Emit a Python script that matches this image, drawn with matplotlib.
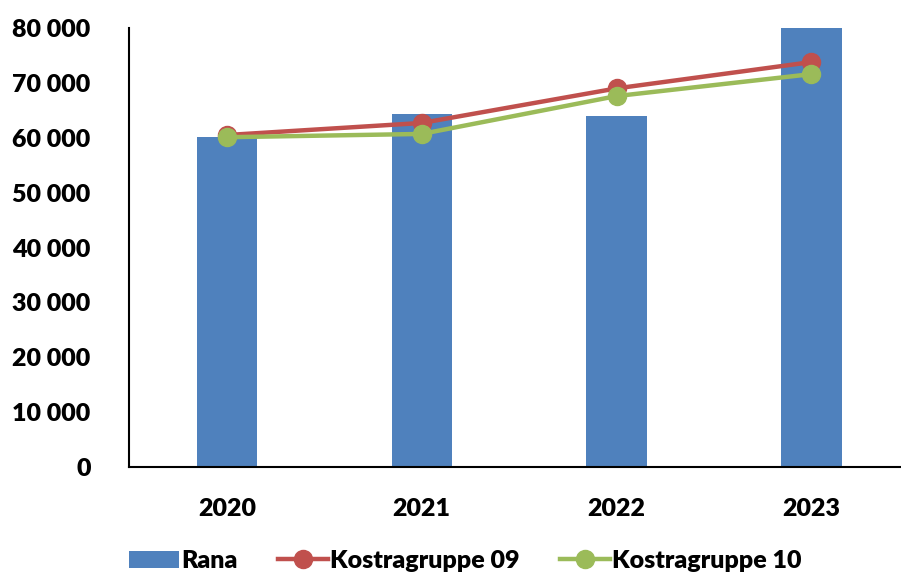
import matplotlib.pyplot as plt
from matplotlib.ticker import FuncFormatter

years = ["2020", "2021", "2022", "2023"]
rana = [60100, 64300, 63900, 80000]
kostra09 = [60500, 62700, 69000, 73800]
kostra10 = [60100, 60700, 67600, 71600]

plt.rcParams['font.family'] = ['Lato', 'DejaVu Sans']
plt.rcParams['font.weight'] = 'heavy'

fig = plt.figure(figsize=(9.01, 5.79), dpi=100)
ax = fig.add_axes([0.1437, 0.1934, 0.865, 0.7582])

x = range(len(years))
b = ax.bar(x, rana, width=0.31, color="#4F81BD", label="Rana", zorder=1)
l1, = ax.plot(x, kostra09, color="#C0504D", lw=3.2, marker="o", ms=13, label="Kostragruppe 09", zorder=2)
l2, = ax.plot(x, kostra10, color="#9BBB59", lw=3.2, marker="o", ms=13, label="Kostragruppe 10", zorder=3)

ax.set_xlim(-0.5, 3.5)
ax.set_ylim(0, 80000)
ax.set_yticks(range(0, 80001, 10000))
ax.yaxis.set_major_formatter(FuncFormatter(lambda v, p: f"{int(v):,}".replace(",", " ")))
ax.set_xticks(list(x))
ax.set_xticklabels(years, fontweight="heavy")

for s in ["top", "right"]:
    ax.spines[s].set_visible(False)
for s in ["left", "bottom"]:
    ax.spines[s].set_linewidth(1.5)
    ax.spines[s].set_color("black")

ax.tick_params(axis="y", length=0, pad=28, labelsize=18)
ax.tick_params(axis="x", length=0, pad=22, labelsize=18)
for lab in ax.get_xticklabels() + ax.get_yticklabels():
    lab.set_fontweight("heavy")

fig.legend([b, l1, l2], ["Rana", "Kostragruppe 09", "Kostragruppe 10"],
           loc="lower left", bbox_to_anchor=(0.118, -0.027), ncol=3, frameon=False,
           handlelength=2.0, handletextpad=0.1, columnspacing=1.6,
           prop={"weight": "heavy", "size": 18})

fig.savefig("out.png", dpi=100)
